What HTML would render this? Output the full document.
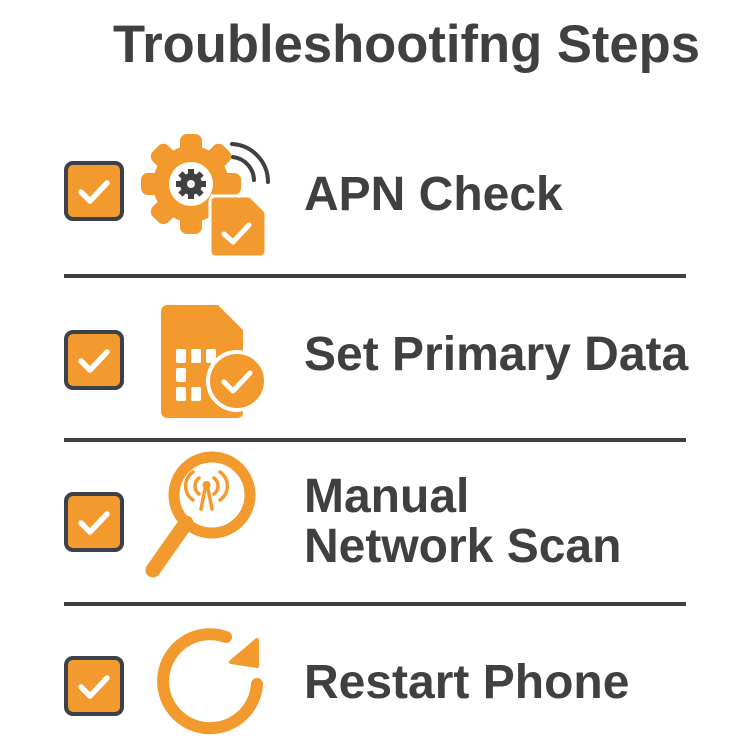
<!DOCTYPE html>
<html><head><meta charset="utf-8"><style>
html,body{margin:0;padding:0;background:#fff;width:750px;height:750px;overflow:hidden}
svg{display:block}
text{font-family:"Liberation Sans",sans-serif;font-weight:bold;fill:#404040}
</style></head><body>
<svg width="750" height="750" viewBox="0 0 750 750" xmlns="http://www.w3.org/2000/svg">
<text x="113" y="62" font-size="53" textLength="587" lengthAdjust="spacingAndGlyphs">Troubleshootifng Steps</text>

<g stroke="#404040" stroke-width="4">
<line x1="64" y1="276" x2="686" y2="276"/>
<line x1="64" y1="440" x2="686" y2="440"/>
<line x1="64" y1="604" x2="686" y2="604"/>
</g>

<g>
<g transform="translate(66,163)"><rect x="0" y="0" width="56" height="56" rx="7" fill="#F29A2E" stroke="#3b404a" stroke-width="4"/><path d="M15 29 L24 38 L41 20" fill="none" stroke="#fff" stroke-width="5.5" stroke-linecap="round" stroke-linejoin="round"/></g>
<g transform="translate(66,332)"><rect x="0" y="0" width="56" height="56" rx="7" fill="#F29A2E" stroke="#3b404a" stroke-width="4"/><path d="M15 29 L24 38 L41 20" fill="none" stroke="#fff" stroke-width="5.5" stroke-linecap="round" stroke-linejoin="round"/></g>
<g transform="translate(66,494)"><rect x="0" y="0" width="56" height="56" rx="7" fill="#F29A2E" stroke="#3b404a" stroke-width="4"/><path d="M15 29 L24 38 L41 20" fill="none" stroke="#fff" stroke-width="5.5" stroke-linecap="round" stroke-linejoin="round"/></g>
<g transform="translate(66,658)"><rect x="0" y="0" width="56" height="56" rx="7" fill="#F29A2E" stroke="#3b404a" stroke-width="4"/><path d="M15 29 L24 38 L41 20" fill="none" stroke="#fff" stroke-width="5.5" stroke-linecap="round" stroke-linejoin="round"/></g>
</g>

<!-- Icon 1 -->
<g fill="#F29A2E">
<circle cx="191" cy="184" r="38"/>
<g transform="translate(191,184)">
<rect x="-11" y="-50" width="22" height="22" rx="7"/>
<rect x="-11" y="-50" width="22" height="22" rx="7" transform="rotate(45)"/>
<rect x="-11" y="-50" width="22" height="22" rx="7" transform="rotate(90)"/>
<rect x="-11" y="-50" width="22" height="22" rx="7" transform="rotate(135)"/>
<rect x="-11" y="-50" width="22" height="22" rx="7" transform="rotate(180)"/>
<rect x="-11" y="-50" width="22" height="22" rx="7" transform="rotate(225)"/>
<rect x="-11" y="-50" width="22" height="22" rx="7" transform="rotate(270)"/>
<rect x="-11" y="-50" width="22" height="22" rx="7" transform="rotate(315)"/>
</g>
</g>
<circle cx="191" cy="184" r="22" fill="#fff"/>
<g fill="#404040" transform="translate(191,184)">
<circle r="11"/>
<rect x="-3" y="-15" width="6" height="7"/>
<rect x="-3" y="-15" width="6" height="7" transform="rotate(45)"/>
<rect x="-3" y="-15" width="6" height="7" transform="rotate(90)"/>
<rect x="-3" y="-15" width="6" height="7" transform="rotate(135)"/>
<rect x="-3" y="-15" width="6" height="7" transform="rotate(180)"/>
<rect x="-3" y="-15" width="6" height="7" transform="rotate(225)"/>
<rect x="-3" y="-15" width="6" height="7" transform="rotate(270)"/>
<rect x="-3" y="-15" width="6" height="7" transform="rotate(315)"/>
</g>
<circle cx="191" cy="184" r="4" fill="#fff"/>
<g fill="none" stroke="#404040" stroke-width="4" stroke-linecap="round">
<path d="M232 144 A38 38 0 0 1 268 182"/>
<path d="M233 157 A24 24 0 0 1 254 180"/>
</g>
<path d="M211 196 H250 L266 212 V251 Q266 257 260 257 H216 Q210 257 210 251 V202 Q210 196 216 196 Z" fill="#F29A2E" stroke="#fff" stroke-width="3"/>
<path d="M224 234 L233 242 L249 225" fill="none" stroke="#fff" stroke-width="5" stroke-linecap="round" stroke-linejoin="round"/>

<!-- Icon 2 -->
<path d="M168 305 H218 L243 330 V412 Q243 418 237 418 H168 Q161 418 161 411 V312 Q161 305 168 305 Z" fill="#F29A2E"/>
<g fill="#fff">
<rect x="176" y="349" width="10" height="14" rx="2"/>
<rect x="191" y="349" width="10" height="14" rx="2"/>
<rect x="206" y="349" width="10" height="14" rx="2"/>
<rect x="176" y="368" width="10" height="14" rx="2"/>
<rect x="176" y="387" width="10" height="14" rx="2"/>
<rect x="191" y="387" width="10" height="14" rx="2"/>
</g>
<circle cx="237" cy="381" r="29" fill="#F29A2E" stroke="#fff" stroke-width="4"/>
<path d="M224 382 L233 391 L250 373" fill="none" stroke="#fff" stroke-width="5" stroke-linecap="round" stroke-linejoin="round"/>

<!-- Icon 3 -->
<circle cx="212" cy="495" r="38" fill="none" stroke="#F29A2E" stroke-width="11"/>
<line x1="186" y1="523" x2="153" y2="570" stroke="#F29A2E" stroke-width="15" stroke-linecap="round"/>
<g fill="none" stroke="#F29A2E" stroke-width="3.5" stroke-linecap="round">
<path d="M205 489 L201 509 M208 489 L212 509"/>
<path d="M199 478 A10 10 0 0 0 199 494"/>
<path d="M214 478 A10 10 0 0 1 214 494"/>
<path d="M193 472 A17 17 0 0 0 193 500"/>
<path d="M220 472 A17 17 0 0 1 220 500"/>
</g>
<circle cx="206.5" cy="485" r="4" fill="#F29A2E"/>

<!-- Icon 4 -->
<path d="M257 684 A47 47 0 1 1 226 637" fill="none" stroke="#F29A2E" stroke-width="12" stroke-linecap="round"/>
<path d="M231 662 L257 640 L257 666 Z" fill="#F29A2E" stroke="#F29A2E" stroke-width="4" stroke-linejoin="round"/>

<text x="304" y="210" font-size="48">APN Check</text>
<text x="304" y="370" font-size="48">Set Primary Data</text>
<text x="304" y="512" font-size="48">Manual</text>
<text x="304" y="562" font-size="48">Network Scan</text>
<text x="304" y="698" font-size="48">Restart Phone</text>
</svg>
</body></html>
